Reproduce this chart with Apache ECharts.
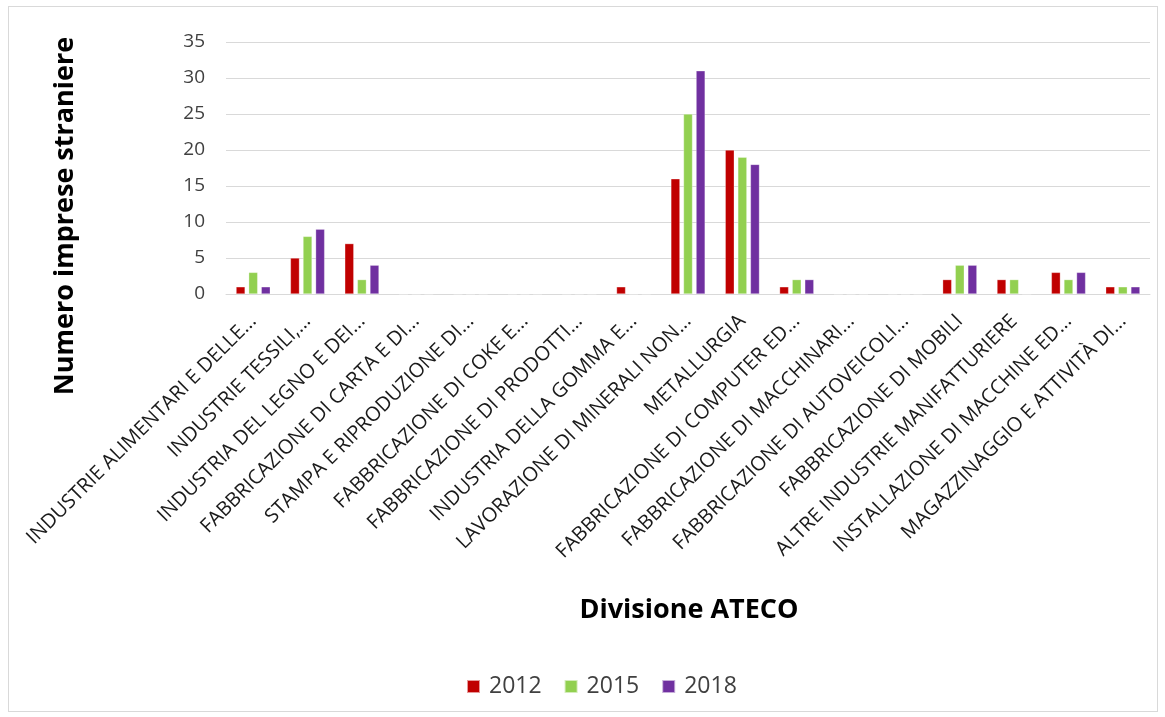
<!DOCTYPE html>
<html><head><meta charset="utf-8">
<script src="https://cdn.jsdelivr.net/npm/echarts@6/dist/echarts.min.js"></script>
<style>
html,body{margin:0;padding:0;background:#fff;}
#frame{position:absolute;left:8px;top:6px;width:1150px;height:706px;border:1px solid #d9d9d9;box-sizing:border-box;}
#c{position:absolute;left:0;top:0;width:1165px;height:717px;}
</style></head>
<body>
<div id="frame"></div>
<div id="c"></div>
<script>
const categories = [
  "INDUSTRIE ALIMENTARI E DELLE...",
  "INDUSTRIE TESSILI,...",
  "INDUSTRIA DEL LEGNO E DEI...",
  "FABBRICAZIONE DI CARTA E DI...",
  "STAMPA E RIPRODUZIONE DI...",
  "FABBRICAZIONE DI COKE E...",
  "FABBRICAZIONE DI PRODOTTI...",
  "INDUSTRIA DELLA GOMMA E...",
  "LAVORAZIONE DI MINERALI NON...",
  "METALLURGIA",
  "FABBRICAZIONE DI COMPUTER ED...",
  "FABBRICAZIONE DI MACCHINARI...",
  "FABBRICAZIONE DI AUTOVEICOLI...",
  "FABBRICAZIONE DI MOBILI",
  "ALTRE INDUSTRIE MANIFATTURIERE",
  "INSTALLAZIONE DI MACCHINE ED...",
  "MAGAZZINAGGIO E ATTIVITÀ DI..."
];
const values2012 = [1, 5, 7, 0, 0, 0, 0, 1, 16, 20, 1, 0, 0, 2, 2, 3, 1];
const values2015 = [3, 8, 2, 0, 0, 0, 0, 0, 25, 19, 2, 0, 0, 4, 2, 2, 1];
const values2018 = [1, 9, 4, 0, 0, 0, 0, 0, 31, 18, 2, 0, 0, 4, 0, 3, 1];
const seriesNames = ["2012", "2015", "2018"];
const colors = ["#C00000", "#92D050", "#7030A0"];
const FONT = "'Open Sans', 'Liberation Sans', sans-serif";

const chart = echarts.init(document.getElementById('c'), null, {renderer: 'canvas'});
const mk = (name, data, color) => ({
  name, type: 'bar', data,
  barWidth: 9, barGap: '40%',
  itemStyle: {color, borderColor: 'rgba(255,255,255,0.6)', borderWidth: 0.5},
  silent: true
});
chart.setOption({
  animation: false,
  textStyle: {fontFamily: FONT},
  grid: {left: 226, right: 15, top: 42, bottom: 423, containLabel: false},
  legend: {
    bottom: 19, left: 466, padding: 0,
    itemWidth: 13, itemHeight: 13, itemGap: 22,
    icon: 'rect',
    textStyle: {fontSize: 23, color: '#404040', fontFamily: FONT, padding: [0, 0, 0, 4]},
    data: seriesNames
  },
  graphic: [
    {type: 'text', x: 65, y: 216, rotation: Math.PI / 2,
     style: {text: 'Numero imprese straniere', font: "bold 27px " + FONT, fill: '#000', align: 'center', verticalAlign: 'middle'}},
    {type: 'text', x: 689, y: 610,
     style: {text: 'Divisione ATECO', font: "bold 27px " + FONT, fill: '#000', align: 'center', verticalAlign: 'middle'}}
  ],
  xAxis: {
    type: 'category', data: categories,
    axisLine: {show: true, lineStyle: {color: '#d9d9d9', width: 1}},
    axisTick: {show: false},
    axisLabel: {rotate: 45, interval: 0, fontSize: 20, color: '#1a1a1a', margin: 24, fontFamily: FONT}
  },
  yAxis: {
    type: 'value', min: 0, max: 35, interval: 5,
    axisLine: {show: false}, axisTick: {show: false},
    splitLine: {lineStyle: {color: '#d9d9d9', width: 1}},
    axisLabel: {fontSize: 19, color: '#404040', margin: 21, fontFamily: FONT}
  },
  series: [
    mk(seriesNames[0], values2012, colors[0]),
    mk(seriesNames[1], values2015, colors[1]),
    mk(seriesNames[2], values2018, colors[2])
  ]
});
</script>
</body></html>
